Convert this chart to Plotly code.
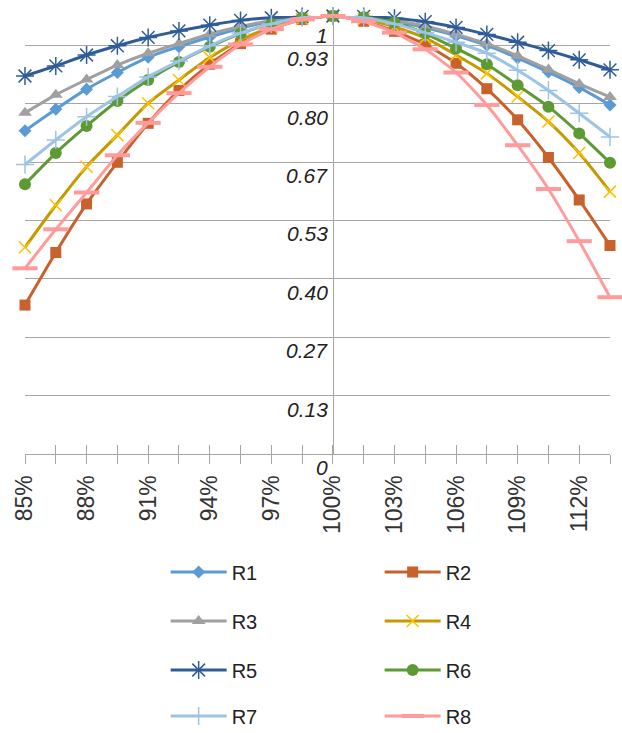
import plotly.graph_objects as go

# Load levels (percent of nominal) and the relative response of each series
levels = [85, 86.5, 88, 89.5, 91, 92.5, 94, 95.5, 97, 98.5,
          100, 101.5, 103, 104.5, 106, 107.5, 109, 110.5, 112, 113.5]
level_labels = ["85%", "", "88%", "", "91%", "", "94%", "", "97%", "",
                "100%", "", "103%", "", "106%", "", "109%", "", "112%", ""]

r1 = [0.738, 0.787, 0.833, 0.871, 0.906, 0.930, 0.952, 0.972, 0.988, 0.997,
      1.0, 0.997, 0.988, 0.973, 0.955, 0.933, 0.904, 0.872, 0.837, 0.797]
r2 = [0.340, 0.460, 0.571, 0.666, 0.755, 0.830, 0.890, 0.937, 0.970, 0.992,
      1.0, 0.988, 0.965, 0.935, 0.892, 0.834, 0.763, 0.677, 0.580, 0.476]
r3 = [0.779, 0.820, 0.855, 0.888, 0.915, 0.937, 0.959, 0.976, 0.990, 0.998,
      1.0, 0.998, 0.990, 0.977, 0.958, 0.937, 0.909, 0.878, 0.845, 0.815]
r4 = [0.472, 0.568, 0.656, 0.728, 0.801, 0.854, 0.905, 0.945, 0.975, 0.993,
      1.0, 0.993, 0.975, 0.950, 0.911, 0.869, 0.816, 0.759, 0.687, 0.599]
r5 = [0.863, 0.886, 0.911, 0.932, 0.951, 0.966, 0.979, 0.990, 0.996, 0.999,
      1.0, 0.999, 0.995, 0.987, 0.974, 0.958, 0.940, 0.921, 0.900, 0.877]
r6 = [0.616, 0.687, 0.749, 0.806, 0.854, 0.895, 0.930, 0.960, 0.982, 0.996,
      1.0, 0.997, 0.985, 0.960, 0.926, 0.890, 0.842, 0.793, 0.732, 0.665]
r7 = [0.661, 0.717, 0.770, 0.816, 0.861, 0.897, 0.932, 0.961, 0.982, 0.996,
      1.0, 0.996, 0.982, 0.962, 0.940, 0.915, 0.876, 0.830, 0.778, 0.724]
r8 = [0.424, 0.513, 0.597, 0.682, 0.756, 0.824, 0.884, 0.935, 0.970, 0.992,
      1.0, 0.988, 0.962, 0.924, 0.871, 0.797, 0.705, 0.605, 0.486, 0.358]

y_ticks = [0, 2/15, 4/15, 6/15, 8/15, 10/15, 12/15, 14/15, 1]
y_tick_text = ["0", "0.13", "0.27", "0.40", "0.53", "0.67", "0.80", "0.93", "1"]

series = [
    ("R1", r1, "#5B9BD5", dict(symbol="diamond", size=10, color="#5B9BD5")),
    ("R2", r2, "#C8612B", dict(symbol="square", size=11, color="#C8612B")),
    ("R3", r3, "#A0A0A0", dict(symbol="triangle-up", size=12, color="#A0A0A0")),
    ("R4", r4, "#C49A00", dict(symbol="x-thin", size=12,
                               line=dict(color="#FFC000", width=1.5))),
    ("R5", r5, "#2F5C98", dict(symbol="asterisk-open", size=15,
                               line=dict(color="#5B87C8", width=1.5))),
    ("R6", r6, "#5E9A34", dict(symbol="circle", size=12, color="#5E9A34")),
    ("R7", r7, "#9DC3E6", dict(symbol="cross-thin", size=13,
                               line=dict(color="#9DC3E6", width=1.5))),
    ("R8", r8, "#FF9B9B", dict(symbol="line-ew", size=18,
                               line=dict(color="#FF9B9B", width=4))),
]

legend_ids = ["legend", "legend", "legend2", "legend2",
              "legend3", "legend3", "legend4", "legend4"]

fig = go.Figure()
for (name, vals, color, marker), lg in zip(series, legend_ids):
    fig.add_trace(go.Scatter(
        x=levels, y=vals, name=name, mode="lines+markers",
        line=dict(color=color, width=3, shape="spline", smoothing=0.6),
        marker=marker, legend=lg, cliponaxis=False,
    ))

# second x axis only draws the inner half of the crossing tick marks
fig.add_trace(go.Scatter(x=[levels[0]], y=[0], xaxis="x2", mode="markers",
                         marker=dict(opacity=0), showlegend=False,
                         hoverinfo="skip"))

grid = "#A6A6A6"
y_axis_pos = (100 - levels[0]) / (levels[-1] - levels[0])

plot_left, plot_right = 25.3, 610.5
plot_top, plot_bottom = 16, 454


def paper_y(py):
    return (plot_bottom - py) / (plot_bottom - plot_top)


def paper_x(px):
    return (px - plot_left) / (plot_right - plot_left)


legend_font = dict(family="Liberation Sans, Arial, sans-serif", size=20,
                   color="#222222")
legend_common = dict(orientation="h", x=paper_x(166), xanchor="left",
                     yanchor="middle", font=legend_font,
                     entrywidth=143, entrywidthmode="pixels",
                     bgcolor="rgba(0,0,0,0)", itemwidth=56)
row_centers = [572, 621, 670, 716]

layout = dict(
    width=622, height=733,
    margin=dict(l=plot_left, r=622 - plot_right, t=plot_top,
                b=733 - plot_bottom, autoexpand=False),
    paper_bgcolor="white", plot_bgcolor="white",
    showlegend=True,
    xaxis=dict(
        range=[levels[0], levels[-1]], tickvals=levels, ticktext=level_labels,
        tickangle=-90, ticks="outside", ticklen=9, tickcolor=grid,
        showline=True, linecolor=grid, linewidth=1, showgrid=False,
        zeroline=False, automargin=False,
        tickfont=dict(family="Liberation Sans, Arial, sans-serif",
                      size=23, color="#333333"),
        ticklabelstandoff=2,
    ),
    xaxis2=dict(
        overlaying="x", matches="x", anchor="y", side="bottom",
        tickvals=levels, ticks="inside", ticklen=9, tickcolor=grid,
        showticklabels=False, showgrid=False, zeroline=False, showline=False,
    ),
    yaxis=dict(
        range=[0, 1], tickvals=y_ticks, showticklabels=False,
        showgrid=True, gridcolor=grid, gridwidth=1, zeroline=False,
        anchor="free", position=y_axis_pos, showline=True, linecolor=grid,
        linewidth=1, ticks="", automargin=False,
    ),
    legend=dict(legend_common, y=paper_y(row_centers[0])),
    legend2=dict(legend_common, y=paper_y(row_centers[1])),
    legend3=dict(legend_common, y=paper_y(row_centers[2])),
    legend4=dict(legend_common, y=paper_y(row_centers[3])),
)
fig.update_layout(**layout)

# value labels sit just left of the vertical axis, below each gridline
for val, txt in zip(y_ticks, y_tick_text):
    fig.add_annotation(
        x=100, y=val, xref="x", yref="y", text=f"<i>{txt}</i>",
        showarrow=False, xanchor="right", yanchor="top", xshift=-3,
        yshift=-6 if val == 1 else 0,
        font=dict(family="Liberation Sans, Arial, sans-serif", size=21,
                  color="#222222"),
    )

fig.write_html("out.html")
